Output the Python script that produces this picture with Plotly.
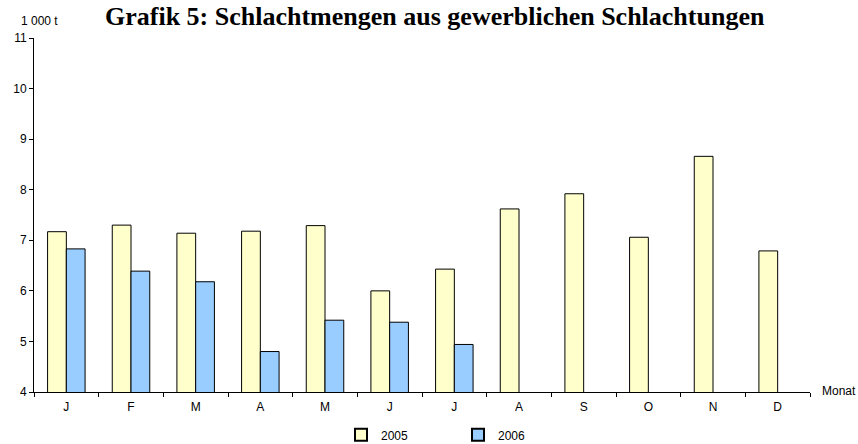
import plotly.graph_objects as go

months = ["J", "F", "M", "A", "M", "J", "J", "A", "S", "O", "N", "D"]
v2005 = [7.17, 7.30, 7.14, 7.18, 7.29, 6.00, 6.43, 7.62, 7.92, 7.06, 8.66, 6.79]
v2006 = [6.83, 6.39, 6.18, 4.80, 5.42, 5.38, 4.94, None, None, None, None, None]
yticks = [4, 5, 6, 7, 8, 9, 10, 11]

x = list(range(len(months)))

fig = go.Figure()
fig.add_trace(go.Bar(x=x, y=v2005, name="2005",
                     marker=dict(color="#FFFFCC", line=dict(color="#000000", width=1))))
fig.add_trace(go.Bar(x=x, y=v2006, name="2006",
                     marker=dict(color="#99CCFF", line=dict(color="#000000", width=1))))

font = "Liberation Sans, Arial, sans-serif"
fig.update_layout(
    width=858, height=444,
    margin=dict(l=34, r=48, t=38, b=52, autoexpand=False),
    paper_bgcolor="white", plot_bgcolor="white",
    barmode="group", bargap=0.42, bargroupgap=0,
    font=dict(family=font, size=12, color="black"),
    showlegend=True,
    legend=dict(orientation="h", x=0.3956, xanchor="left", y=-0.121, yanchor="middle",
                font=dict(size=12), entrywidth=72, itemsizing="constant",
                bgcolor="rgba(0,0,0,0)"),
    xaxis=dict(tickmode="array", tickvals=x, ticktext=months, range=[-0.5, 11.5],
               showline=True, linecolor="black", linewidth=1, ticks="",
               ticklabelstandoff=4,
               minor=dict(tick0=-0.5, dtick=1, ticks="outside", ticklen=4,
                          tickcolor="black", showgrid=False),
               showgrid=False, zeroline=False, automargin=False),
    yaxis=dict(range=[4, 11], tickvals=yticks, showline=True, linecolor="black",
               linewidth=1, ticks="outside", ticklen=4, tickcolor="black",
               showgrid=False, zeroline=False, automargin=False),
    annotations=[
        dict(text="<b>Grafik 5: Schlachtmengen aus gewerblichen Schlachtungen</b>",
             xref="paper", yref="paper", x=0.517, y=1 + 38 / 354, xanchor="center", yanchor="top",
             showarrow=False, font=dict(family="Liberation Serif, Times New Roman, serif", size=26)),
        dict(text="1 000 t", xref="paper", yref="paper", x=-0.0193, y=1.048,
             xanchor="left", yanchor="middle", showarrow=False, font=dict(size=12)),
        dict(text="Monat", xref="paper", yref="paper", x=1.0129, y=0.003,
             xanchor="left", yanchor="middle", showarrow=False, font=dict(size=12)),
    ],
)

fig.write_html("out.html", config={"displayModeBar": False},
               post_script="document.body.style.margin='0';")
